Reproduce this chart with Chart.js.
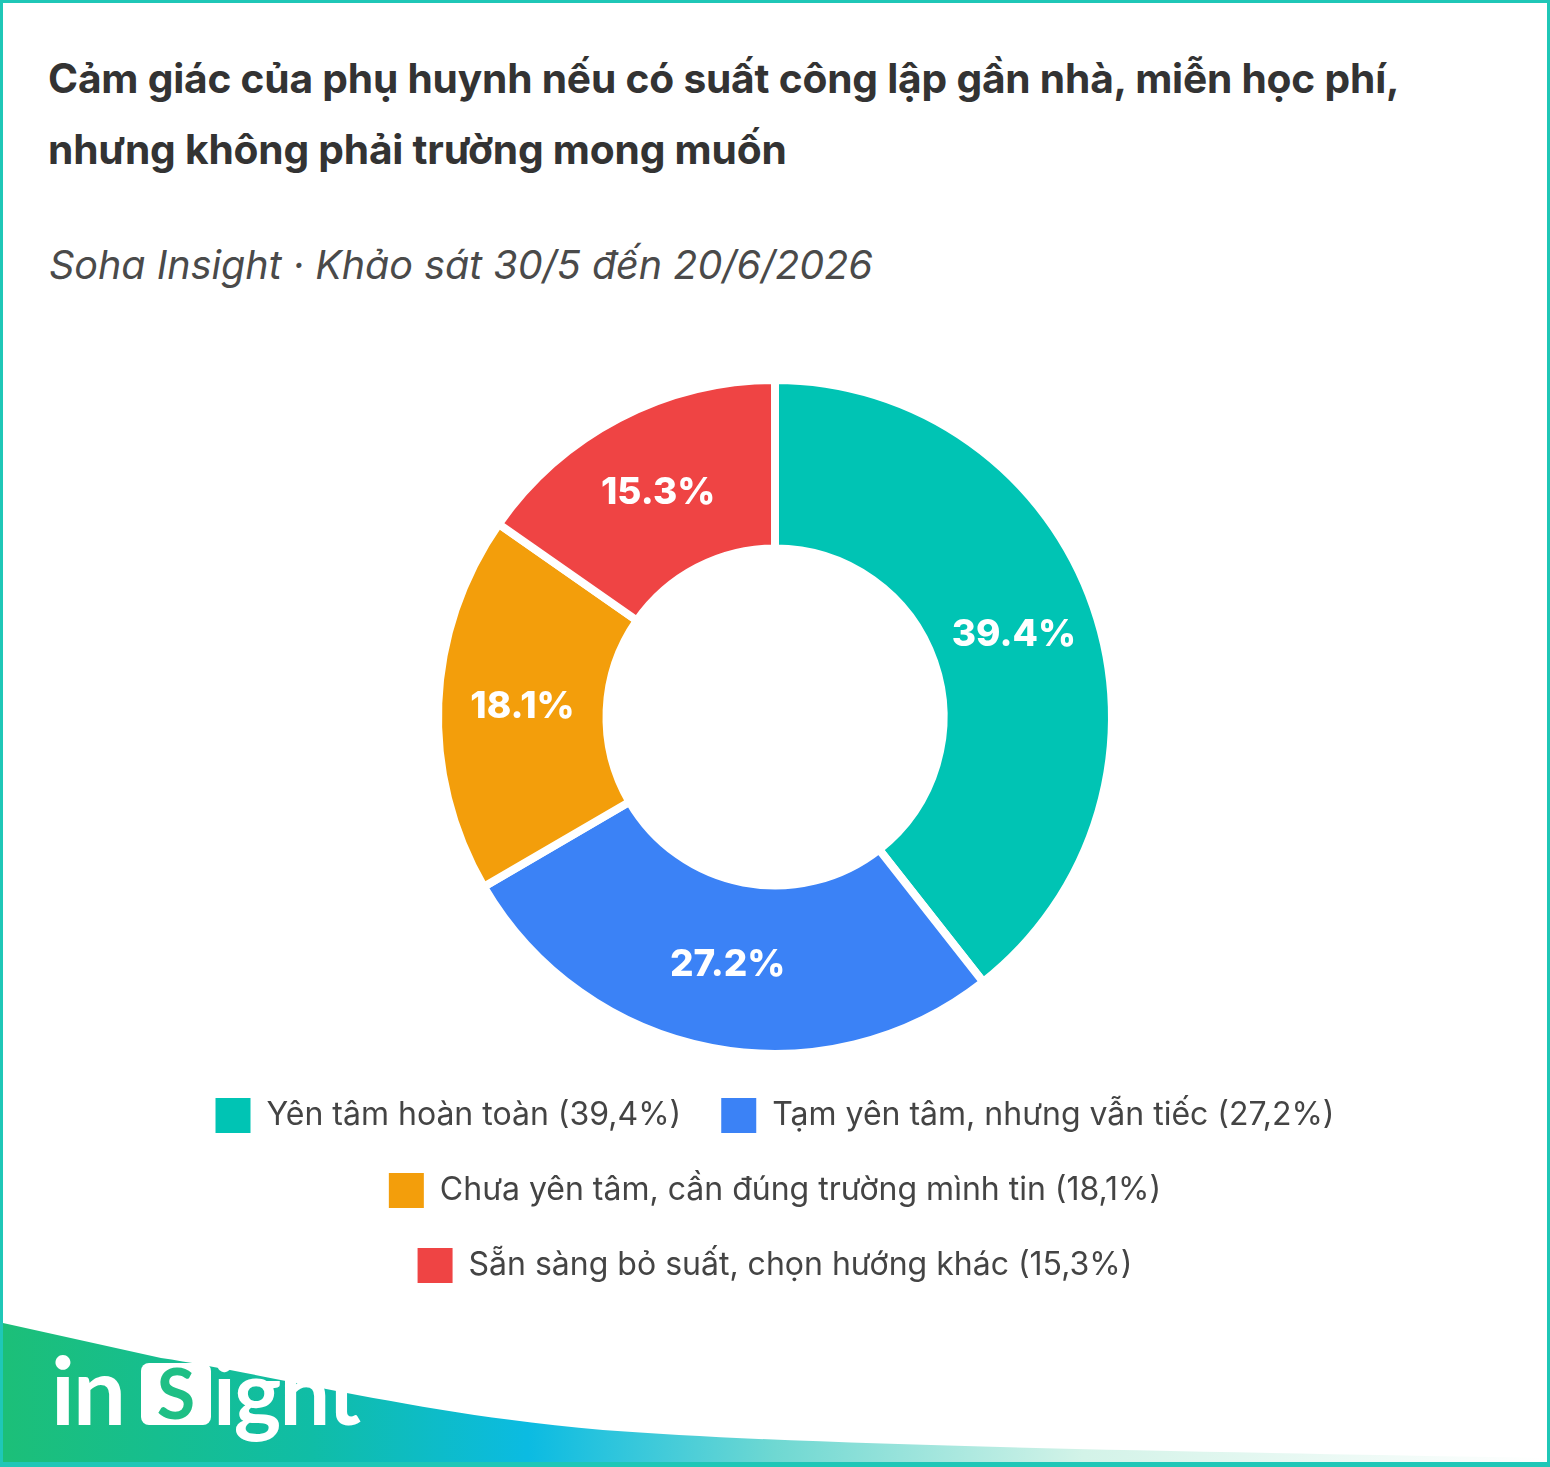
<!DOCTYPE html>
<html lang="vi">
<head>
<meta charset="utf-8">
<title>Cảm giác của phụ huynh</title>
<script src="https://cdn.jsdelivr.net/npm/chart.js@4.4.1/dist/chart.umd.min.js"></script>
<style>
  html, body { margin: 0; padding: 0; background: #fff; }
  .card {
    position: relative;
    width: 1550px;
    height: 1467px;
    box-sizing: border-box;
    border: 3px solid #1fc7b7;
    border-bottom-width: 5px;
    overflow: hidden;
    font-family: Inter, "Noto Sans", sans-serif;
  }
  .title {
    position: absolute;
    left: 45px;
    top: 40px;
    margin: 0;
    font-size: 40.7px;
    font-weight: 700;
    line-height: 71px;
    color: #333;
    letter-spacing: -0.2px;
  }
  .subtitle {
    position: absolute;
    left: 46px;
    top: 238px;
    margin: 0;
    font-size: 39.5px;
    font-weight: 400;
    font-style: italic;
    color: #4a4a4a;
  }
  .chart-box {
    position: absolute;
    left: 122px;
    top: 373px;
    width: 1300px;
    height: 917px;
  }
  .logo {
    position: absolute;
    left: 0;
    bottom: 0;
  }
</style>
</head>
<body>
<div class="card">
  <h1 class="title">Cảm giác của phụ huynh nếu có suất công lập gần nhà, miễn học phí,<br>nhưng không phải trường mong muốn</h1>
  <p class="subtitle">Soha Insight · Khảo sát 30/5 đến 20/6/2026</p>
  <div class="chart-box"><canvas id="donut"></canvas></div>
  <svg class="logo" width="1544" height="150" viewBox="0 1317 1544 150">
    <defs>
      <linearGradient id="band" x1="0" y1="0" x2="1544" y2="0" gradientUnits="userSpaceOnUse">
        <stop offset="0" stop-color="#1cbf78"/>
        <stop offset="0.2" stop-color="#10bda6"/>
        <stop offset="0.34" stop-color="#0bbbe2"/>
        <stop offset="0.5" stop-color="#6fd8d2"/>
        <stop offset="0.7" stop-color="#d3f3e8"/>
        <stop offset="1" stop-color="#ffffff"/>
      </linearGradient>
    </defs>
    <path d="M0 1328 L158 1363 C 260 1378 420 1420 600 1435 C 800 1450 1100 1455 1544 1463 L1544 1467 L0 1467 Z" fill="url(#band)"/>
    <g font-family="Lato, 'Open Sans', sans-serif" font-weight="700" fill="#fff">
      <text x="48" y="1430" font-size="94" letter-spacing="-2">in</text>
      <rect x="138" y="1368" width="70" height="62" rx="8" fill="#fff"/>
      <text x="173" y="1424" font-size="70" text-anchor="middle" fill="#1fbf85">S</text>
      <text x="210" y="1430" font-size="90" letter-spacing="-2">ight</text>
    </g>
  </svg>
</div>

<script>
  // survey answers, in drawing order (clockwise from 12 o'clock)
  const categories = [
    'Yên tâm hoàn toàn',
    'Tạm yên tâm, nhưng vẫn tiếc',
    'Chưa yên tâm, cần đúng trường mình tin',
    'Sẵn sàng bỏ suất, chọn hướng khác'
  ];
  const shares = [39.4, 27.2, 18.1, 15.3];
  const colors = ['#00c4b4', '#3b82f6', '#f39e0b', '#ef4444'];

  const legendLabels = categories.map((c, i) => c + ' (' + String(shares[i]).replace('.', ',') + '%)');

  // writes the percentage on each slice
  const sliceLabels = {
    id: 'sliceLabels',
    afterDatasetsDraw(chart) {
      const ctx = chart.ctx;
      const meta = chart.getDatasetMeta(0);
      ctx.save();
      ctx.font = '800 37px Inter, "Noto Sans", sans-serif';
      ctx.fillStyle = '#fff';
      ctx.textAlign = 'center';
      ctx.textBaseline = 'middle';
      meta.data.forEach((arc, i) => {
        const p = arc.tooltipPosition();
        ctx.fillText(shares[i].toFixed(1) + '%', p.x, p.y);
      });
      ctx.restore();
    }
  };

  new Chart(document.getElementById('donut'), {
    type: 'doughnut',
    data: {
      labels: legendLabels,
      datasets: [{
        data: shares,
        backgroundColor: colors,
        borderColor: '#fff',
        borderWidth: 8,
        hoverOffset: 0
      }]
    },
    options: {
      responsive: true,
      maintainAspectRatio: false,
      animation: false,
      cutout: '50%',
      layout: { padding: 0 },
      plugins: {
        tooltip: { enabled: false },
        legend: {
          position: 'bottom',
          labels: {
            boxWidth: 35,
            boxHeight: 35,
            padding: 40,
            color: '#444',
            font: { family: 'Inter, "Noto Sans", sans-serif', size: 32 },
            // plain squares, no white slice border around the swatch
            generateLabels(chart) {
              const items = Chart.overrides.doughnut.plugins.legend.labels.generateLabels(chart);
              items.forEach(it => { it.lineWidth = 0; });
              return items;
            }
          }
        }
      }
    },
    plugins: [sliceLabels]
  });
</script>
</body>
</html>
